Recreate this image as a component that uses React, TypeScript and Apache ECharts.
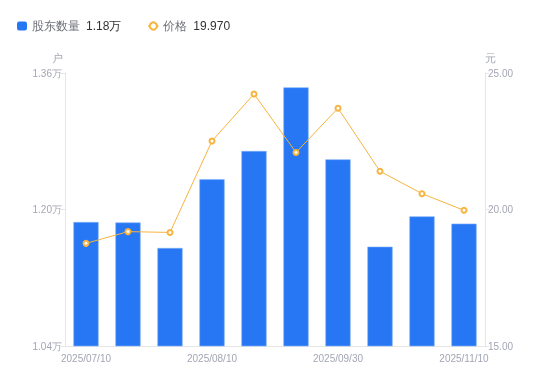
import React, { useEffect, useRef } from "react";
import * as echarts from "echarts";

const categories = [
  "2025/07/10", "2025/07/20", "2025/07/31", "2025/08/10", "2025/08/20",
  "2025/08/31", "2025/09/30", "2025/10/20", "2025/10/31", "2025/11/10",
];
const holders = [11853, 11848, 11549, 12354, 12686, 13432, 12588, 11564, 11920, 11834];
const prices = [18.76, 19.19, 19.16, 22.51, 24.23, 22.09, 23.71, 21.4, 20.58, 19.97];
const leftTicks = [10400, 12000, 13600];

const BLUE = "#2777F5";
const ORANGE = "#F7B43E";
const LABEL = "#A3A6B4";
const AXIS = "#E6E6E6";

export default function App() {
  const ref = useRef<HTMLDivElement>(null);
  useEffect(() => {
    const chart = echarts.init(ref.current!, null, { renderer: "svg" });
    const lastH = holders[holders.length - 1];
    const lastP = prices[prices.length - 1];
    chart.setOption({
      animation: false,
      legend: {
        left: 12,
        top: 15,
        itemWidth: 10,
        itemHeight: 9,
        itemGap: 26,
        data: [
          { name: "股东数量", icon: "roundRect", itemStyle: { borderWidth: 0 } },
          { name: "价格" },
        ],
        formatter: (name: string) =>
          name === "股东数量"
            ? `{n|${name}}{v|${(lastH / 10000).toFixed(2)}万}`
            : `{n|${name}}{v|${lastP.toFixed(3)}}`,
        textStyle: {
          rich: {
            n: { color: "#6E7079", fontSize: 12, padding: [0, 6, 0, 0] },
            v: { color: "#333", fontSize: 12 },
          },
        },
      },
      grid: { left: 65, right: 65, top: 73, bottom: 35 },
      xAxis: {
        type: "category",
        data: categories,
        axisLine: { lineStyle: { color: AXIS } },
        axisTick: { show: false },
        axisLabel: { color: LABEL, fontSize: 10, interval: 2, margin: 7 },
      },
      yAxis: [
        {
          type: "value",
          name: "户",
          nameGap: 10,
          nameTextStyle: { color: LABEL, fontSize: 11, align: "right", padding: [0, 2, 0, 0] },
          min: 10400,
          max: 13600,
          axisLine: { show: true, lineStyle: { color: AXIS } },
          axisTick: { show: true, length: 4, lineStyle: { color: AXIS }, customValues: leftTicks },
          splitLine: { show: false },
          axisLabel: {
            color: LABEL,
            fontSize: 10,
            margin: 3,
            customValues: leftTicks,
            formatter: (v: number) => (v / 10000).toFixed(2) + "万",
          },
        },
        {
          type: "value",
          name: "元",
          nameGap: 10,
          nameTextStyle: { color: LABEL, fontSize: 11, align: "left" },
          min: 15,
          max: 25,
          interval: 5,
          axisLine: { show: true, lineStyle: { color: AXIS } },
          axisTick: { show: true, length: 4, lineStyle: { color: AXIS } },
          splitLine: { show: false },
          axisLabel: {
            color: LABEL,
            fontSize: 10,
            margin: 3,
            formatter: (v: number) => v.toFixed(2),
          },
        },
      ],
      series: [
        {
          name: "股东数量",
          type: "bar",
          data: holders,
          barWidth: "60%",
          itemStyle: { color: BLUE, borderColor: "#7FAEF9", borderWidth: 0.6 },
        },
        {
          name: "价格",
          type: "line",
          yAxisIndex: 1,
          data: prices,
          symbol: "emptyCircle",
          symbolSize: 5,
          lineStyle: { color: ORANGE, width: 1 },
          itemStyle: { color: ORANGE, borderColor: ORANGE, borderWidth: 2 },
        },
      ],
    });
    return () => chart.dispose();
  }, []);
  return (
    <div
      ref={ref}
      style={{ position: "fixed", left: 0, top: 0, width: 550, height: 381 }}
    />
  );
}
